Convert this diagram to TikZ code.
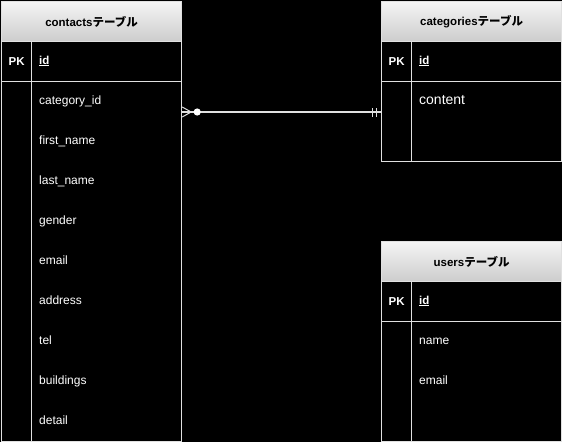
\documentclass[tikz,border=0pt]{standalone}
\usepackage{fontspec}
\setmainfont{Liberation Sans}
\newfontfamily\jpfont{Noto Sans CJK JP}
\begin{document}
\begin{tikzpicture}[x=1pt,y=-1pt,
  frame/.style={draw=black!12,line width=1.2pt},
  header/.style={frame,top color=black!4,bottom color=black!20,rectangle,inner sep=0pt,anchor=north west,
    font=\bfseries\fontsize{11.5}{13}\selectfont,text=black},
  cell/.style={frame,fill=black,rectangle,inner sep=0pt,anchor=north west},
  pk/.style={text=white,font=\bfseries\fontsize{11.5}{13}\selectfont},
  field/.style={text=white,anchor=west,font=\fontsize{12}{14}\selectfont,inner sep=0pt,
    text height=8.6pt,text depth=2.6pt},
  relation/.style={draw=white!88!black,line width=1.3pt},
]
\fill[black] (0,0) rectangle (562,442);
\useasboundingbox (0,0) rectangle (562,442);

% contacts table
\node[header,minimum width=180pt,minimum height=40pt] (contacts) at (1,1) {contacts{\jpfont テーブル}};
\node[cell,minimum width=30pt,minimum height=40pt] (contacts-pk) at (1,41) {};
\node[cell,minimum width=150pt,minimum height=40pt] (contacts-key) at (31,41) {};
\node[cell,minimum width=30pt,minimum height=360pt] (contacts-gap) at (1,81) {};
\node[cell,minimum width=150pt,minimum height=360pt] (contacts-body) at (31,81) {};
\node[pk] (contacts-pklabel) at (contacts-pk.center) {PK};
\node[field,font=\bfseries\fontsize{11.5}{13}\selectfont] (contacts-id) at (39,61) {\underline{id}};
\node[field] (c1) at (39,101) {category\_id};
\node[field] (c2) at (39,141) {first\_name};
\node[field] (c3) at (39,181) {last\_name};
\node[field] (c4) at (39,221) {gender};
\node[field] (c5) at (39,261) {email};
\node[field] (c6) at (39,301) {address};
\node[field] (c7) at (39,341) {tel};
\node[field] (c8) at (39,381) {buildings};
\node[field] (c9) at (39,421) {detail};

% categories table
\node[header,minimum width=180pt,minimum height=40pt] (categories) at (381,1) {categories{\jpfont テーブル}};
\node[cell,minimum width=30pt,minimum height=40pt] (categories-pk) at (381,41) {};
\node[cell,minimum width=150pt,minimum height=40pt] (categories-key) at (411,41) {};
\node[cell,minimum width=30pt,minimum height=80pt] (categories-gap) at (381,81) {};
\node[cell,minimum width=150pt,minimum height=80pt] (categories-body) at (411,81) {};
\node[pk] (categories-pklabel) at (categories-pk.center) {PK};
\node[field,font=\bfseries\fontsize{11.5}{13}\selectfont] (categories-id) at (419,61) {\underline{id}};
\node[field,font=\fontsize{14}{16}\selectfont,text height=10pt,text depth=3pt] (g1) at (419,101) {content};

% users table
\node[header,minimum width=180pt,minimum height=40pt] (users) at (381,241) {users{\jpfont テーブル}};
\node[cell,minimum width=30pt,minimum height=40pt] (users-pk) at (381,281) {};
\node[cell,minimum width=150pt,minimum height=40pt] (users-key) at (411,281) {};
\node[cell,minimum width=30pt,minimum height=120pt] (users-gap) at (381,321) {};
\node[cell,minimum width=150pt,minimum height=120pt] (users-body) at (411,321) {};
\node[pk] (users-pklabel) at (users-pk.center) {PK};
\node[field,font=\bfseries\fontsize{11.5}{13}\selectfont] (users-id) at (419,301) {\underline{id}};
\node[field] (u1) at (419,341) {name};
\node[field] (u2) at (419,381) {email};

% relation: contacts.category_id (zero or many) -- categories.id (exactly one)
\coordinate (fk) at (contacts-body.east |- 0,112);
\coordinate (ref) at (categories-gap.west |- 0,112);
\draw[relation] (fk) -- (ref);
\draw[relation,line width=1pt] ([yshift=-5pt]fk) -- ([xshift=9pt]fk) -- ([yshift=5pt]fk);
\fill[white] ([xshift=15pt]fk) circle (3.6pt);
\draw[relation,line width=1pt] ([xshift=-9pt,yshift=-4.5pt]ref) -- ([xshift=-9pt,yshift=4.5pt]ref)
  ([xshift=-4.5pt,yshift=-4.5pt]ref) -- ([xshift=-4.5pt,yshift=4.5pt]ref);
\end{tikzpicture}
\end{document}
